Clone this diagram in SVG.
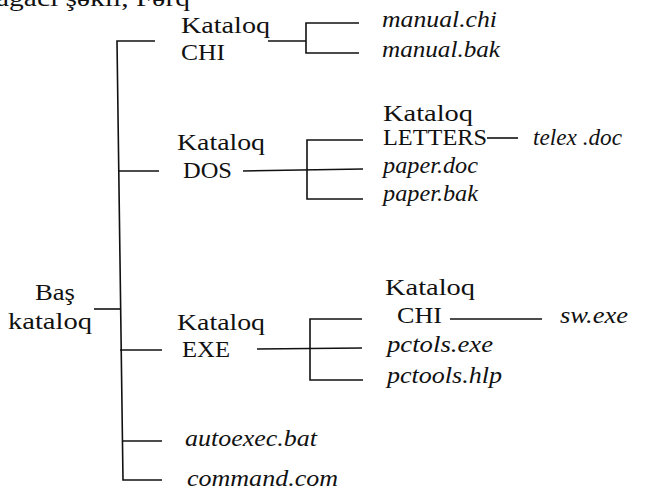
<svg xmlns="http://www.w3.org/2000/svg" width="664" height="491" viewBox="0 0 664 491">
<style>
text{font-family:"Liberation Serif","Times New Roman",serif;font-size:24px;fill:#111;}
.i{font-family:"Liberation Serif","DejaVu Serif","Times New Roman",serif;font-style:italic;}
.c line,.c polyline{stroke:#111;stroke-width:1.6;fill:none;}
</style>
<rect width="664" height="491" fill="#fff"/>
<text x="-4" y="6" font-size="28" textLength="194" lengthAdjust="spacingAndGlyphs">ağacı şəkli, Fərq</text>
<g class="c" id="connectors">
<polyline points="155,41 117,41 123,480 162,480"/>
<line x1="118" y1="171" x2="159" y2="171"/>
<line x1="94" y1="309" x2="120" y2="309"/>
<line x1="120" y1="350" x2="162" y2="350"/>
<line x1="123" y1="441" x2="162" y2="441"/>
<line x1="268" y1="41" x2="306" y2="41"/>
<polyline points="359,23 306,23 306,53 359,53"/>
<line x1="243" y1="171" x2="363" y2="169"/>
<polyline points="363,140 307,140 307,199 363,199"/>
<line x1="487" y1="138" x2="518" y2="138"/>
<line x1="257" y1="349" x2="362" y2="348"/>
<polyline points="362,319 310,319 310,380 363,380"/>
<line x1="450" y1="319" x2="542" y2="319"/>
</g>
<g id="root"><text x="35" y="300" textLength="40" lengthAdjust="spacingAndGlyphs">Baş</text><text x="8" y="329" textLength="84" lengthAdjust="spacingAndGlyphs">kataloq</text></g>
<g id="chi"><text x="181" y="33" textLength="89" lengthAdjust="spacingAndGlyphs">Kataloq</text><text x="181" y="60" textLength="44" lengthAdjust="spacingAndGlyphs">CHI</text></g>
<g id="manual-chi"><text class="i" x="382" y="27" textLength="115" lengthAdjust="spacingAndGlyphs">manual.chi</text></g>
<g id="manual-bak"><text class="i" x="382" y="57" textLength="118" lengthAdjust="spacingAndGlyphs">manual.bak</text></g>
<g id="dos"><text x="177" y="150" textLength="88" lengthAdjust="spacingAndGlyphs">Kataloq</text><text x="183" y="178" textLength="49" lengthAdjust="spacingAndGlyphs">DOS</text></g>
<g id="letters"><text x="383" y="121" textLength="90" lengthAdjust="spacingAndGlyphs">Kataloq</text><text x="383" y="145" textLength="104" lengthAdjust="spacingAndGlyphs">LETTERS</text></g>
<g id="telex"><text class="i" x="533" y="145" textLength="89" lengthAdjust="spacingAndGlyphs">telex .doc</text></g>
<g id="paper-doc"><text class="i" x="383" y="173" textLength="95" lengthAdjust="spacingAndGlyphs">paper.doc</text></g>
<g id="paper-bak"><text class="i" x="383" y="201" textLength="95" lengthAdjust="spacingAndGlyphs">paper.bak</text></g>
<g id="exe"><text x="177" y="330" textLength="88" lengthAdjust="spacingAndGlyphs">Kataloq</text><text x="182" y="357" textLength="48" lengthAdjust="spacingAndGlyphs">EXE</text></g>
<g id="chi2"><text x="385" y="295" textLength="90" lengthAdjust="spacingAndGlyphs">Kataloq</text><text x="397" y="323" textLength="45" lengthAdjust="spacingAndGlyphs">CHI</text></g>
<g id="sw"><text class="i" x="560" y="323" textLength="68" lengthAdjust="spacingAndGlyphs">sw.exe</text></g>
<g id="pctols"><text class="i" x="387" y="352" textLength="106" lengthAdjust="spacingAndGlyphs">pctols.exe</text></g>
<g id="pctools"><text class="i" x="387" y="383" textLength="115" lengthAdjust="spacingAndGlyphs">pctools.hlp</text></g>
<g id="autoexec"><text class="i" x="185" y="446" textLength="132" lengthAdjust="spacingAndGlyphs">autoexec.bat</text></g>
<g id="command"><text class="i" x="187" y="486" textLength="151" lengthAdjust="spacingAndGlyphs">command.com</text></g>
</svg>
